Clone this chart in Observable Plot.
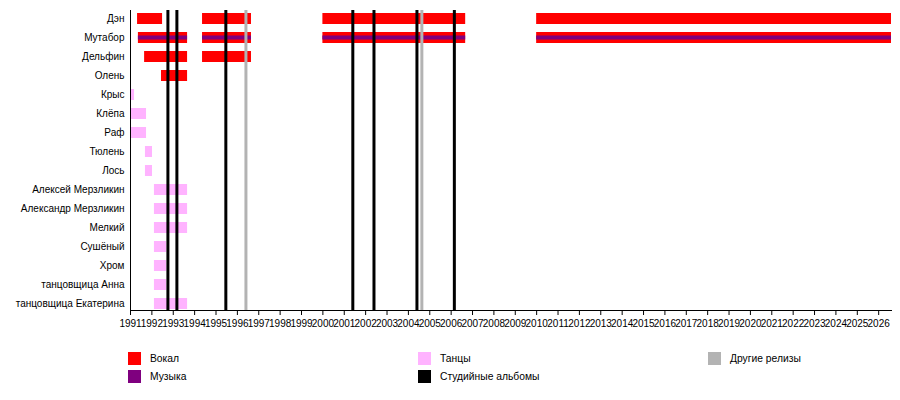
<!DOCTYPE html>
<html>
<head>
<meta charset="utf-8">
<script src="https://cdn.jsdelivr.net/npm/d3@7"></script>
<script src="https://cdn.jsdelivr.net/npm/@observablehq/plot@0.6"></script>
<style>
  body { margin: 0; background: #fff; font-family: "Liberation Sans", Arial, sans-serif; }
  #legend { position: relative; height: 60px; font-size: 10.3px; }
  .item { position: absolute; display: flex; align-items: center; }
  .sw { width: 13px; height: 13px; margin-right: 9px; }
</style>
</head>
<body>
<div id="chart"></div>
<div id="legend"></div>
<script>
// участники группы, сверху вниз
const members = [
  "Дэн", "Мутабор", "Дельфин", "Олень", "Крыс", "Клёпа", "Раф", "Тюлень", "Лось",
  "Алексей Мерзликин", "Александр Мерзликин", "Мелкий", "Сушёный", "Хром",
  "танцовщица Анна", "танцовщица Екатерина"
]
const endYear = 2026.6

// [участник, начало, конец]
const vocal = [
  ["Дэн", 1991.33, 1992.5], ["Дэн", 1994.37, 1996.66], ["Дэн", 2000.0, 2006.68], ["Дэн", 2010.0, endYear],
  ["Мутабор", 1991.37, 1993.67], ["Мутабор", 1994.37, 1996.66], ["Мутабор", 2000.0, 2006.68], ["Мутабор", 2010.0, endYear],
  ["Дельфин", 1991.66, 1993.67], ["Дельфин", 1994.37, 1996.66],
  ["Олень", 1992.45, 1993.67]
]
const music = [
  ["Мутабор", 1991.37, 1993.67], ["Мутабор", 1994.37, 1996.66], ["Мутабор", 2000.0, 2006.68], ["Мутабор", 2010.0, endYear]
]
const dance = [
  ["Крыс", 1991.0, 1991.19],
  ["Клёпа", 1991.0, 1991.75],
  ["Раф", 1991.0, 1991.75],
  ["Тюлень", 1991.7, 1992.03],
  ["Лось", 1991.7, 1992.03],
  ["Алексей Мерзликин", 1992.12, 1993.67],
  ["Александр Мерзликин", 1992.12, 1993.67],
  ["Мелкий", 1992.12, 1993.67],
  ["Сушёный", 1992.12, 1992.69],
  ["Хром", 1992.12, 1992.69],
  ["танцовщица Анна", 1992.12, 1992.69],
  ["танцовщица Екатерина", 1992.12, 1993.67]
]
const studioAlbums = [1992.75, 1993.17, 1995.46, 2001.4, 2002.39, 2004.4, 2006.15]
const otherReleases = [1996.4, 2004.63]
const years = d3.range(1991, 2027)

const colors = {
  vocal: "#ff0000",
  music: "#7f007f",
  dance: "#ffb3ff",
  studio: "#000000",
  other: "#b3b3b3"
}

let chart = Plot.plot({
  width: 900,
  height: 340,
  marginLeft: 130,
  marginRight: 9,
  marginTop: 10,
  marginBottom: 30,
  style: {fontFamily: "Liberation Sans, Arial, sans-serif", fontSize: "10px"},
  x: {domain: [1991, endYear], ticks: years, tickFormat: d => String(d), tickSize: 5, line: true, label: null},
  y: {type: "point", domain: members, padding: 0.27, tickSize: 0, tickPadding: 6, label: null},
  marks: [
    Plot.ruleY(dance, {y: d => d[0], x1: d => d[1], x2: d => d[2], stroke: colors.dance, strokeWidth: 11}),
    Plot.ruleY(vocal, {y: d => d[0], x1: d => d[1], x2: d => d[2], stroke: colors.vocal, strokeWidth: 11}),
    Plot.ruleY(music, {y: d => d[0], x1: d => d[1], x2: d => d[2], stroke: colors.music, strokeWidth: 4}),
    Plot.ruleX(otherReleases, {stroke: colors.other, strokeWidth: 3}),
    Plot.ruleX(studioAlbums, {stroke: colors.studio, strokeWidth: 3}),
    Plot.ruleX([1991], {stroke: "black", strokeWidth: 1})
  ]
})

d3.select('#chart').append(() => chart)

// легенда
const legendItems = [
  {label: "Вокал", color: colors.vocal, left: 128, top: 12},
  {label: "Музыка", color: colors.music, left: 128, top: 30},
  {label: "Танцы", color: colors.dance, left: 418, top: 12},
  {label: "Студийные альбомы", color: colors.studio, left: 418, top: 30},
  {label: "Другие релизы", color: colors.other, left: 708, top: 12}
]
let item = d3.select('#legend').selectAll('div').data(legendItems).join('div')
  .attr('class', 'item')
  .style('left', d => d.left + 'px')
  .style('top', d => d.top + 'px')
item.append('div').attr('class', 'sw').style('background', d => d.color)
item.append('span').text(d => d.label)
</script>
</body>
</html>
